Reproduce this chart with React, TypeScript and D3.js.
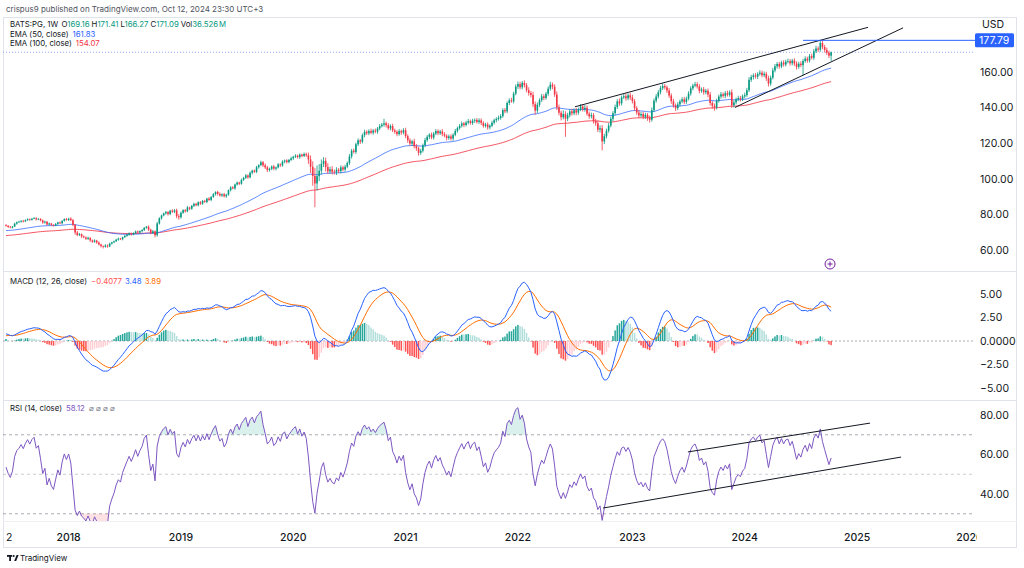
import React, { useMemo } from "react";
import * as d3 from "d3";

// Weekly closes BATS:PG from Jun 2017 to Oct 2024
const CLOSE = [
  73.6, 73.0, 72.6, 73.2, 74.8, 75.6, 75.9, 76.4, 76.1, 76.8,
  77.3, 77.0, 77.6, 77.9, 77.2, 77.5, 76.6, 75.4, 75.9, 74.3,
  74.9, 74.1, 73.7, 74.6, 75.5, 75.0, 76.4, 77.4, 76.9, 77.6,
  76.8, 74.1, 69.8, 68.4, 68.9, 67.6, 67.1, 66.3, 66.8, 65.4,
  64.6, 65.3, 64.2, 63.1, 62.2, 61.8, 62.5, 62.0, 63.6, 64.3,
  64.9, 65.8, 66.4, 66.1, 67.2, 67.9, 68.6, 69.3, 68.8, 69.5,
  70.4, 69.8, 70.6, 71.2, 72.5, 73.1, 71.4, 69.6, 70.5, 68.3,
  74.9, 77.8, 79.4, 80.6, 81.3, 80.2, 82.1, 81.5, 82.3, 79.0,
  78.4, 80.9, 82.4, 81.7, 83.9, 83.2, 84.8, 85.9, 85.1, 86.8,
  86.0, 87.6, 87.0, 88.9, 88.1, 89.8, 91.4, 92.6, 91.5, 90.6,
  91.3, 90.2, 91.1, 93.6, 95.2, 94.6, 96.8, 97.9, 97.2, 99.4,
  100.6, 101.9, 100.8, 103.4, 104.6, 103.9, 106.5, 107.7, 109.3, 107.6,
  106.4, 104.9, 105.6, 106.9, 105.7, 106.4, 108.1, 107.5, 109.6, 110.3,
  109.4, 110.6, 111.5, 112.4, 113.0, 112.2, 113.6, 112.8, 113.9, 113.2,
  110.9, 106.8, 101.6, 97.4, 101.5, 104.5, 108.4, 110.1, 106.6, 104.2,
  105.3, 104.0, 103.6, 105.1, 104.3, 106.4, 105.2, 106.8, 108.9, 112.6,
  115.8, 115.1, 119.4, 121.6, 120.8, 124.5, 126.4, 125.6, 126.8, 125.9,
  127.1, 126.5, 128.3, 129.6, 130.4, 131.2, 130.1, 128.4, 129.6, 127.2,
  126.4, 125.1, 126.8, 126.0, 127.3, 124.0, 121.6, 119.8, 121.0, 118.3,
  117.1, 114.6, 115.8, 118.9, 121.7, 123.6, 124.8, 123.2, 125.4, 126.8,
  125.6, 126.6, 125.1, 124.2, 122.9, 123.8, 122.6, 124.7, 126.9, 128.5,
  129.8, 131.1, 130.2, 131.6, 132.4, 131.3, 132.6, 133.1, 131.9, 132.8,
  131.4, 129.7, 130.5, 128.9, 129.8, 131.5, 132.9, 133.6, 134.2, 135.2,
  138.6, 137.9, 142.6, 144.1, 143.5, 147.9, 151.8, 153.2, 151.4, 153.9,
  152.6, 149.8, 148.2, 147.1, 141.9, 138.3, 141.6, 144.2, 146.3, 145.4,
  147.8, 150.6, 152.9, 151.7, 147.3, 140.2, 137.1, 134.6, 136.4, 133.8,
  135.7, 137.9, 136.8, 138.5, 137.2, 139.0, 140.6, 139.1, 139.9, 136.6,
  135.1, 135.8, 132.4, 131.2, 127.6, 128.4, 121.0, 123.9, 127.0, 129.9,
  133.7, 136.9, 140.3, 143.5, 142.4, 145.8, 146.4, 145.2, 146.9, 145.7,
  143.6, 139.8, 137.2, 135.6, 136.4, 134.8, 135.9, 134.1, 133.2, 138.6,
  143.9, 146.2, 148.7, 150.9, 152.1, 151.4, 149.6, 146.8, 143.6, 141.2,
  139.7, 141.8, 143.5, 144.6, 143.2, 145.1, 147.9, 150.8, 152.4, 153.1,
  151.9, 149.4, 150.2, 148.6, 149.5, 147.3, 142.6, 141.0, 140.1, 143.8,
  146.2, 147.5, 146.6, 148.1, 147.2, 148.6, 141.3, 142.9, 144.6, 145.4,
  144.8, 146.3, 147.0, 149.8, 155.6, 157.2, 158.1, 157.4, 158.9, 159.6,
  158.2, 159.0, 156.4, 153.5, 156.8, 160.9, 163.2, 164.5, 163.1, 165.3,
  164.2, 165.8, 166.1, 164.9, 166.4, 164.8, 162.9, 164.6, 163.9, 166.2,
  167.5, 166.4, 168.9, 168.0, 171.6, 173.2, 172.5, 176.3, 174.0, 172.4,
  170.8, 169.16, 171.09,
];
const FIRST_OPEN = 73.9;

// Upper / lower wick lengths in tenths of a dollar
const WICK_UP = [
  6, 4, 5, 3, 5, 4, 6, 3, 5, 4, 5, 4, 3, 6, 5, 4, 3, 5, 6, 4,
  5, 3, 4, 6, 4, 5, 3, 4, 6, 5, 8, 6, 5, 9, 7, 4, 6, 5, 8, 4,
  5, 7, 4, 6, 5, 4, 8, 6, 5, 3, 4, 5, 6, 4, 3, 5, 4, 6, 5, 4,
  5, 6, 4, 5, 3, 4, 7, 6, 8, 5, 9, 6, 5, 4, 7, 6, 5, 8, 6, 9,
  12, 7, 5, 6, 8, 4, 5, 7, 6, 5, 7, 5, 6, 4, 8, 5, 6, 4, 7, 9,
  6, 8, 5, 4, 6, 7, 5, 6, 4, 7, 5, 8, 6, 7, 5, 6, 8, 5, 9, 7,
  10, 8, 7, 6, 9, 5, 7, 6, 8, 5, 7, 6, 9, 5, 8, 6, 7, 5, 9, 8,
  15, 22, 30, 45, 60, 38, 25, 20, 18, 22, 15, 18, 12, 14, 10, 12, 9, 11, 8, 13,
  10, 12, 9, 11, 8, 10, 12, 9, 10, 14, 9, 11, 8, 12, 10, 25, 9, 11, 10, 13,
  10, 9, 12, 8, 11, 14, 10, 12, 9, 15, 12, 10, 11, 9, 13, 10, 8, 12, 9, 11,
  10, 9, 13, 11, 8, 10, 12, 9, 11, 8, 9, 11, 8, 10, 12, 9, 11, 8, 10, 12,
  11, 9, 10, 12, 8, 11, 9, 10, 13, 11, 10, 12, 9, 11, 14, 10, 12, 15, 13, 11,
  14, 12, 16, 11, 18, 15, 13, 10, 14, 12, 11, 13, 16, 12, 14, 18, 15, 12, 20, 16,
  14, 12, 15, 11, 13, 10, 14, 12, 15, 13, 12, 14, 11, 13, 15, 16, 18, 14, 12, 15,
  13, 11, 14, 12, 16, 10, 13, 15, 11, 14, 15, 12, 10, 14, 11, 13, 12, 10, 14, 15,
  12, 14, 11, 13, 15, 12, 10, 14, 12, 13, 11, 13, 10, 12, 14, 11, 13, 12, 10, 14,
  12, 13, 11, 14, 10, 12, 15, 11, 13, 12, 11, 13, 10, 12, 14, 11, 16, 12, 10, 13,
  12, 11, 14, 13, 15, 12, 11, 13, 10, 14, 12, 13, 11, 15, 12, 14, 13, 11, 12, 10,
  13, 11, 14, 12, 10, 13, 12, 11, 14, 12, 13, 11, 12, 14, 13, 15, 12, 14.9, 14, 12,
  13, 11, 3.2,
];
const WICK_DN = [
  5, 6, 4, 5, 3, 6, 4, 5, 6, 4, 4, 6, 5, 3, 6, 4, 5, 7, 6, 5,
  4, 6, 5, 3, 5, 4, 6, 5, 4, 6, 6, 8, 12, 7, 6, 8, 5, 7, 6, 8,
  6, 5, 7, 6, 8, 9, 5, 7, 4, 6, 5, 4, 6, 5, 7, 4, 5, 6, 7, 5,
  4, 6, 5, 7, 5, 6, 8, 7, 6, 12, 8, 6, 7, 5, 8, 9, 6, 7, 8, 12,
  14, 8, 6, 7, 5, 8, 6, 7, 5, 6, 7, 6, 5, 8, 6, 7, 5, 8, 9, 6,
  8, 7, 9, 6, 7, 5, 8, 6, 7, 5, 6, 7, 8, 5, 9, 6, 7, 8, 6, 10,
  9, 11, 8, 7, 9, 10, 6, 8, 7, 9, 8, 7, 6, 9, 7, 8, 10, 7, 6, 9,
  25, 35, 55, 134, 40, 28, 20, 18, 25, 15, 14, 16, 12, 15, 11, 13, 10, 12, 9, 11,
  12, 9, 11, 10, 13, 9, 12, 10, 11, 8, 11, 9, 12, 10, 8, 11, 13, 9, 12, 10,
  11, 12, 9, 13, 10, 12, 14, 11, 13, 12, 14, 16, 12, 10, 11, 9, 13, 10, 12, 9,
  11, 10, 12, 9, 13, 10, 11, 12, 8, 10, 9, 10, 12, 8, 11, 9, 10, 12, 9, 11,
  12, 10, 9, 13, 11, 8, 10, 12, 9, 10, 9, 11, 10, 12, 8, 11, 10, 13, 12, 11,
  13, 12, 15, 14, 16, 22, 14, 12, 11, 13, 10, 12, 11, 14, 13, 16, 15, 18, 12, 102,
  14, 12, 13, 11, 15, 12, 10, 13, 14, 12, 13, 12, 14, 15, 13, 16, 50, 15, 12, 11,
  10, 13, 12, 11, 14, 12, 10, 13, 11, 14, 13, 15, 12, 14, 11, 13, 12, 15, 16, 11,
  10, 12, 11, 13, 10, 12, 14, 13, 15, 12, 16, 11, 12, 10, 13, 11, 10, 12, 11, 10,
  12, 14, 11, 13, 12, 15, 14, 16, 18, 11, 10, 12, 11, 13, 10, 11, 14, 12, 11, 10,
  13, 11, 12, 10, 11, 12, 14, 11, 13, 10, 12, 11, 14, 16, 12, 10, 11, 13, 12, 10,
  12, 11, 10, 13, 12, 14, 15, 11, 12, 59, 10, 12, 11, 9, 12, 10, 13, 11, 12, 14,
  12, 13, 28.9,
];

// indicator seeds (values at the left edge of the chart)
const EMA50_SEED = 70.8;
const EMA100_SEED = 68.0;
const EMA12_SEED = 73.2;
const EMA26_SEED = 72.4;
const SIGNAL_SEED = 0.5;
const RSI_GAIN_SEED = 0.42;
const RSI_LOSS_SEED = 0.34;

const PRICE_TICKS = [60, 80, 100, 120, 140, 160];
const MACD_TICKS = [5, 2.5, 0, -2.5, -5];
const MACD_TICK_LABELS = ["5.00", "2.50", "0.0000", "\u22122.50", "\u22125.00"];
const RSI_TICKS = [80, 60, 40];
const RSI_BANDS = [70, 50, 30];
const YEAR_LABELS = ["2018", "2019", "2020", "2021", "2022", "2023", "2024", "2025", "2026"];
const YEAR_INDEX = [29, 81, 133, 185, 237, 290, 342, 394, 446];

const HLINE_PRICE = 177.79;
const HLINE_START = 369;
const LAST_CLOSE = 171.09;
// trendlines: [i0, v0, i1, v1]
const PRICE_TRENDS = [
  [263.4, 140.45, 399.1, 185.1],
  [337.5, 140.1, 415.3, 184.8],
];
const RSI_TRENDS = [
  [315.7, 61.3, 400, 75.9],
  [276.4, 32.9, 414.4, 58.7],
];

const FONT = "Inter, 'Noto Sans', 'Liberation Sans', sans-serif";
const UP = "#089981";
const DOWN = "#f23645";

function ema(vals: number[], period: number, seed: number) {
  const k = 2 / (period + 1);
  let e = seed;
  return vals.map((v) => (e = e + k * (v - e)));
}

export default function App() {
  const W = 1024;
  const H = 568;
  const PLOT_R = 975;

  const x = d3.scaleLinear().domain([0, 446]).range([6, 6 + 446 * 2.16]);
  const yP = d3.scaleLinear().domain([60, 160]).range([250, 72]);
  const yM = d3.scaleLinear().domain([-5, 5]).range([388, 294]);
  const yR = d3.scaleLinear().domain([40, 80]).range([494, 415]);

  const calc = useMemo(() => {
    const opens = CLOSE.map((c, i) => (i === 0 ? FIRST_OPEN : CLOSE[i - 1]));
    const highs = CLOSE.map((c, i) => Math.max(opens[i], c) + WICK_UP[i] / 10);
    const lows = CLOSE.map((c, i) => Math.min(opens[i], c) - WICK_DN[i] / 10);
    const e50 = ema(CLOSE, 50, EMA50_SEED);
    const e100 = ema(CLOSE, 100, EMA100_SEED);
    const e12 = ema(CLOSE, 12, EMA12_SEED);
    const e26 = ema(CLOSE, 26, EMA26_SEED);
    const macd = e12.map((v, i) => v - e26[i]);
    const signal = ema(macd, 9, SIGNAL_SEED);
    const hist = macd.map((v, i) => v - signal[i]);
    let ag = RSI_GAIN_SEED;
    let al = RSI_LOSS_SEED;
    const rsi = CLOSE.map((c, i) => {
      const prev = i === 0 ? FIRST_OPEN : CLOSE[i - 1];
      const ch = c - prev;
      ag = (ag * 13 + Math.max(ch, 0)) / 14;
      al = (al * 13 + Math.max(-ch, 0)) / 14;
      return 100 - 100 / (1 + ag / al);
    });
    return { opens, highs, lows, e50, e100, macd, signal, hist, rsi };
  }, []);

  const lineP = d3.line<number>().x((d, i) => x(i)).y((d) => yP(d));
  const lineM = d3.line<number>().x((d, i) => x(i)).y((d) => yM(d));
  const lineR = d3.line<number>().x((d, i) => x(i)).y((d) => yR(d));
  const areaHi = d3.area<number>().x((d, i) => x(i)).y0(yR(70)).y1((d) => yR(Math.max(d, 70)));
  const areaLo = d3.area<number>().x((d, i) => x(i)).y0(yR(30)).y1((d) => yR(Math.min(d, 30)));

  const axisText = { fontFamily: FONT, fontSize: 10.5, fill: "#131722" };
  const legText = { fontFamily: FONT, fontSize: 7.8, fill: "#131722" };

  return (
    <svg width={W} height={H} style={{ position: "absolute", left: 0, top: 0, background: "#fff" }}>
      <defs>
        <clipPath id="cp"><rect x={3} y={17} width={PLOT_R - 3} height={254} /></clipPath>
        <clipPath id="cm"><rect x={3} y={272} width={PLOT_R - 3} height={128} /></clipPath>
        <clipPath id="cr"><rect x={3} y={401} width={PLOT_R - 3} height={120} /></clipPath>
        <clipPath id="cx"><rect x={0} y={525} width={PLOT_R + 2} height={20} /></clipPath>
      </defs>
      <rect x={0} y={0} width={W} height={H} fill="#fff" />

      {/* header */}
      <text x={6} y={12} style={{ fontFamily: FONT, fontSize: 8, fill: "#50535e" }}>
        crispus9 published on TradingView.com, Oct 12, 2024 23:30 UTC+3
      </text>

      {/* frame */}
      <rect x={3.5} y={17.5} width={1013} height={530} fill="none" stroke="#e0e3eb" />
      <line x1={3} x2={1017} y1={271.5} y2={271.5} stroke="#e0e3eb" />
      <line x1={3} x2={1017} y1={400.5} y2={400.5} stroke="#e0e3eb" />
      <line x1={3} x2={1017} y1={521.5} y2={521.5} stroke="#eef0f4" />

      {/* ---------- price pane ---------- */}
      <g clipPath="url(#cp)">
        <line x1={3} x2={PLOT_R} y1={yP(LAST_CLOSE)} y2={yP(LAST_CLOSE)} stroke="#7f9cf5" strokeWidth={1} strokeDasharray="1 2" opacity={0.8} />
        <path d={lineP(calc.e100) || ""} fill="none" stroke="#f23645" strokeWidth={1} opacity={0.85} />
        <path d={lineP(calc.e50) || ""} fill="none" stroke="#2962ff" strokeWidth={1} opacity={0.75} />
        {CLOSE.map((c, i) => {
          const o = calc.opens[i];
          const col = c >= o ? UP : DOWN;
          const cx = x(i);
          const top = yP(Math.max(o, c));
          const bot = yP(Math.min(o, c));
          return (
            <g key={i}>
              <line x1={cx} x2={cx} y1={yP(calc.highs[i])} y2={yP(calc.lows[i])} stroke={col} strokeWidth={0.8} />
              <rect x={cx - 0.8} y={top} width={1.6} height={Math.max(bot - top, 0.7)} fill={col} />
            </g>
          );
        })}
        {PRICE_TRENDS.map((t, k) => (
          <line key={k} x1={x(t[0])} y1={yP(t[1])} x2={x(t[2])} y2={yP(t[3])} stroke="#131722" strokeWidth={1} />
        ))}
      </g>
      <line x1={x(HLINE_START)} x2={PLOT_R} y1={yP(HLINE_PRICE)} y2={yP(HLINE_PRICE)} stroke="#2962ff" strokeWidth={1} />
      {/* dividend marker */}
      <circle cx={x(381.5)} cy={264} r={5} fill="#fff" stroke="#7b1fa2" strokeWidth={1} />
      <line x1={x(381.5) - 2.5} x2={x(381.5) + 2.5} y1={264} y2={264} stroke="#7b1fa2" strokeWidth={1} />
      <line x1={x(381.5)} x2={x(381.5)} y1={261.5} y2={266.5} stroke="#7b1fa2" strokeWidth={1} />

      {/* price axis */}
      <text x={982} y={28} style={axisText}>USD</text>
      {PRICE_TICKS.map((t) => (
        <text key={t} x={980} y={yP(t) + 3.8} style={axisText}>{t.toFixed(2)}</text>
      ))}
      <rect x={975} y={yP(HLINE_PRICE) - 7} width={39} height={14} rx={1.5} fill="#2962ff" />
      <text x={979} y={yP(HLINE_PRICE) + 3.8} style={{ ...axisText, fill: "#fff" }}>{HLINE_PRICE.toFixed(2)}</text>

      {/* legend */}
      <text x={10} y={27.3} style={legText}>
        <tspan>BATS:PG, 1W </tspan>
        <tspan dx={1}>O</tspan><tspan fill={UP}>169.16</tspan>
        <tspan dx={2}>H</tspan><tspan fill={UP}>171.41</tspan>
        <tspan dx={2}>L</tspan><tspan fill={UP}>166.27</tspan>
        <tspan dx={2}>C</tspan><tspan fill={UP}>171.09</tspan>
        <tspan dx={2}>Vol</tspan><tspan fill={UP}>36.526</tspan><tspan fill={UP} dx={1}>M</tspan>
      </text>
      <text x={10} y={36.8} style={legText}>
        <tspan>EMA (50, close)</tspan><tspan dx={4} fill="#2962ff">161.83</tspan>
      </text>
      <text x={10} y={46.3} style={legText}>
        <tspan>EMA (100, close)</tspan><tspan dx={4} fill="#f23645">154.07</tspan>
      </text>

      {/* ---------- MACD pane ---------- */}
      <g clipPath="url(#cm)">
        <line x1={3} x2={PLOT_R} y1={yM(0)} y2={yM(0)} stroke="#9598a1" strokeDasharray="2 2" strokeWidth={0.8} />
        {calc.hist.map((h, i) => {
          const prev = i === 0 ? h : calc.hist[i - 1];
          const col = h >= 0 ? (h >= prev ? "#26a69a" : "#b2dfdb") : h < prev ? "#ff5252" : "#ffcdd2";
          const y0 = yM(0);
          const y1 = yM(h);
          return <rect key={i} x={x(i) - 0.75} y={Math.min(y0, y1)} width={1.5} height={Math.abs(y1 - y0)} fill={col} />;
        })}
        <path d={lineM(calc.signal) || ""} fill="none" stroke="#ff6d00" strokeWidth={1} />
        <path d={lineM(calc.macd) || ""} fill="none" stroke="#2962ff" strokeWidth={1} />
      </g>
      {MACD_TICKS.map((t, k) => (
        <text key={t} x={980} y={yM(t) + 3.8} style={axisText}>{MACD_TICK_LABELS[k]}</text>
      ))}
      <text x={10} y={284} style={legText}>
        <tspan>MACD (12, 26, close)</tspan>
        <tspan dx={4} fill="#ff5252">{"\u22120.4077"}</tspan>
        <tspan dx={3} fill="#2962ff">3.48</tspan>
        <tspan dx={3} fill="#ff6d00">3.89</tspan>
      </text>

      {/* ---------- RSI pane ---------- */}
      <g clipPath="url(#cr)">
        {RSI_BANDS.map((b) => (
          <line key={b} x1={3} x2={PLOT_R} y1={yR(b)} y2={yR(b)} stroke="#9598a1" strokeDasharray="3 3" strokeWidth={0.8} opacity={b === 50 ? 0.6 : 1} />
        ))}
        <path d={areaHi(calc.rsi) || ""} fill="rgba(8,153,129,0.15)" />
        <path d={areaLo(calc.rsi) || ""} fill="rgba(242,54,69,0.15)" />
        <path d={lineR(calc.rsi) || ""} fill="none" stroke="#7e57c2" strokeWidth={1} />
        {RSI_TRENDS.map((t, k) => (
          <line key={k} x1={x(t[0])} y1={yR(t[1])} x2={x(t[2])} y2={yR(t[3])} stroke="#131722" strokeWidth={1} />
        ))}
      </g>
      {RSI_TICKS.map((t) => (
        <text key={t} x={980} y={yR(t) + 3.8} style={axisText}>{t.toFixed(2)}</text>
      ))}
      <text x={10} y={411} style={legText}>
        <tspan>RSI (14, close)</tspan>
        <tspan dx={4} fill="#7e57c2">58.12</tspan>
        <tspan dx={4} fill="#787b86">{"\u2300 \u2300 \u2300 \u2300"}</tspan>
      </text>

      {/* ---------- time axis ---------- */}
      <g clipPath="url(#cx)">
        <text x={6} y={540.5} style={axisText}>2</text>
        {YEAR_LABELS.map((l, k) => (
          <text key={l} x={x(YEAR_INDEX[k])} y={540.5} textAnchor="middle" style={{ ...axisText, fontWeight: 500 }}>{l}</text>
        ))}
      </g>

      {/* TradingView logo */}
      <g fill="#131722">
        <rect x={7} y={555} width={5} height={1.8} />
        <rect x={9.2} y={555} width={1.8} height={6} />
        <circle cx={13.6} cy={556} r={1.1} />
        <polygon points="14.2,561 16.6,555 18.6,555 16.2,561" />
      </g>
      <text x={20} y={561} style={{ fontFamily: FONT, fontSize: 8, fill: "#131722" }}>TradingView</text>
    </svg>
  );
}
